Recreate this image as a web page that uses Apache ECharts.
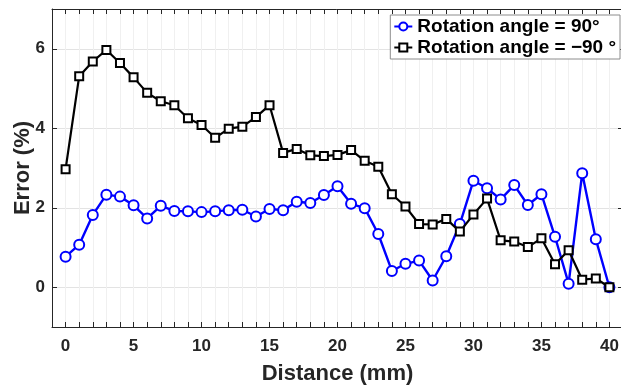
<!DOCTYPE html>
<html>
<head>
<meta charset="utf-8">
<script src="https://cdn.jsdelivr.net/npm/echarts@6/dist/echarts.min.js"></script>
<style>
  html, body { margin: 0; padding: 0; background: #fff; }
  #chart { width: 621px; height: 387px; }
</style>
</head>
<body>
<div id="chart"></div>
<script>
// distance along the sample (mm)
const distances = [0, 1, 2, 3, 4, 5, 6, 7, 8, 9, 10, 11, 12, 13, 14, 15, 16, 17, 18, 19, 20,
  21, 22, 23, 24, 25, 26, 27, 28, 29, 30, 31, 32, 33, 34, 35, 36, 37, 38, 39, 40];

// error (%) for rotation angle = 90°
const errorPos90 = [0.77, 1.07, 1.82, 2.33, 2.28, 2.06, 1.73, 2.05, 1.92, 1.91, 1.89,
  1.91, 1.94, 1.95, 1.78, 1.97, 1.94, 2.15, 2.12, 2.32, 2.54,
  2.10, 1.99, 1.34, 0.41, 0.59, 0.67, 0.17, 0.78, 1.59, 2.68,
  2.49, 2.21, 2.57, 2.07, 2.34, 1.27, 0.09, 2.87, 1.21, 0.00];

// error (%) for rotation angle = -90°
const errorNeg90 = [2.97, 5.31, 5.68, 5.97, 5.64, 5.28, 4.89, 4.68, 4.58, 4.25, 4.08,
  3.76, 3.99, 4.04, 4.28, 4.58, 3.38, 3.48, 3.32, 3.30, 3.33,
  3.45, 3.18, 3.03, 2.34, 2.03, 1.59, 1.58, 1.72, 1.40, 1.83,
  2.23, 1.18, 1.15, 1.01, 1.23, 0.58, 0.93, 0.19, 0.22, 0.00];

const yTicks = [0, 2, 4, 6];
const seriesNames = ['Rotation angle = 90°', 'Rotation angle = \u221290 °'];

const font = 'Liberation Sans, Arial, sans-serif';
const axisColor = '#262626';

const chart = echarts.init(document.getElementById('chart'));

const xBase = {
  type: 'value',
  min: -1,
  max: 41,
  interval: 1,
  axisLine: { show: true, onZero: false, lineStyle: { color: axisColor, width: 1 } },
  axisTick: { show: true, inside: true, length: 5, lineStyle: { color: axisColor } },
  splitLine: { show: false }
};

const yBase = {
  type: 'value',
  min: -1,
  max: 7,
  interval: 1,
  axisLine: { show: true, onZero: false, lineStyle: { color: axisColor, width: 1 } },
  axisTick: { show: true, inside: true, length: 5, customValues: yTicks, lineStyle: { color: axisColor } },
  splitLine: { show: false }
};

const option = {
  backgroundColor: '#fff',
  animation: false,
  grid: { left: 52, top: 9, width: 571, bottom: 60, outerBoundsMode: 'none', containLabel: false },
  legend: {
    orient: 'vertical',
    right: 1,
    top: 15,
    padding: [2, 4, 2, 3],
    itemGap: 2,
    itemWidth: 18,
    itemHeight: 10,
    borderColor: '#8c8c8c',
    borderWidth: 1,
    backgroundColor: '#fff',
    textStyle: { fontFamily: font, fontWeight: 'bold', fontSize: 19, color: '#000' },
    data: seriesNames
  },
  xAxis: [
    Object.assign({}, xBase, {
      position: 'bottom',
      name: 'Distance (mm)',
      nameLocation: 'middle',
      nameGap: 36,
      nameMoveOverlap: false,
      nameTextStyle: { fontFamily: font, fontWeight: 'bold', fontSize: 22, color: axisColor },
      axisLabel: {
        margin: 11,
        fontFamily: font, fontWeight: 'bold', fontSize: 17, color: axisColor,
        formatter: v => (v >= 0 && v <= 40 && v % 5 === 0) ? String(v) : ''
      },
      splitLine: { show: true, lineStyle: { color: '#f0f0f0', width: 1 } }
    }),
    Object.assign({}, xBase, { position: 'top', axisLabel: { show: false } })
  ],
  yAxis: [
    Object.assign({}, yBase, {
      position: 'left',
      name: 'Error (%)',
      nameLocation: 'middle',
      nameGap: 18,
      nameMoveOverlap: false,
      nameTextStyle: { fontFamily: font, fontWeight: 'bold', fontSize: 22, color: axisColor },
      axisLabel: {
        margin: 7,
        customValues: yTicks,
        fontFamily: font, fontWeight: 'bold', fontSize: 17, color: axisColor
      },
      splitLine: { show: true, lineStyle: { color: '#e3e3e3', width: 1 } }
    }),
    Object.assign({}, yBase, { position: 'right', axisLabel: { show: false } })
  ],
  series: [
    {
      name: seriesNames[0],
      type: 'line',
      data: distances.map((d, i) => [d, errorPos90[i]]),
      symbol: 'emptyCircle',
      symbolSize: 10,
      lineStyle: { color: '#0000ff', width: 2.4 },
      itemStyle: { color: '#0000ff', borderColor: '#0000ff', borderWidth: 2.4 },
      z: 3
    },
    {
      name: seriesNames[1],
      type: 'line',
      data: distances.map((d, i) => [d, errorNeg90[i]]),
      symbol: 'emptyRect',
      symbolSize: 8,
      lineStyle: { color: '#000', width: 2.2 },
      itemStyle: { color: '#000', borderColor: '#000', borderWidth: 2.2 },
      z: 4
    }
  ]
};

chart.setOption(option);
</script>
</body>
</html>
